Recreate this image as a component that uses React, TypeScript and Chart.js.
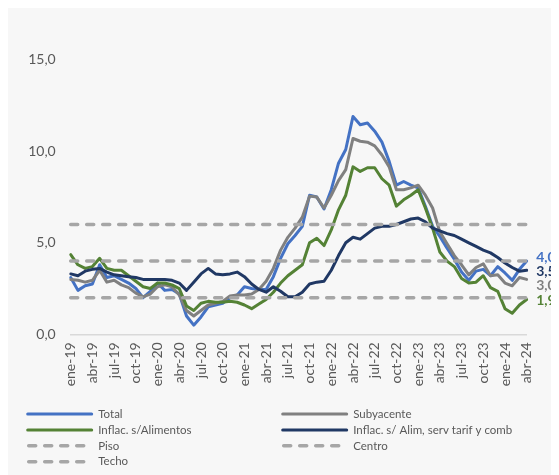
import React, { useEffect, useRef } from "react";
import { Chart, registerables } from "chart.js";

Chart.register(...registerables);

const months = ["ene", "feb", "mar", "abr", "may", "jun", "jul", "ago", "sep", "oct", "nov", "dic"];
const years = ["19", "20", "21", "22", "23", "24"];
const categories = years.flatMap((y) => months.map((m) => `${m}-${y}`)).slice(0, 64);

const total = [
  3.1, 2.4, 2.65, 2.75, 3.8, 3.1, 3.2, 3.0, 2.8, 2.5, 2.0, 2.35,
  2.8, 2.4, 2.45, 2.2, 1.0, 0.5, 0.95, 1.5, 1.6, 1.7, 2.0, 2.15,
  2.6, 2.5, 2.45, 2.45, 3.15, 4.15, 4.95, 5.4, 5.9, 7.6, 7.5, 6.85,
  7.9, 9.35, 10.1, 11.9, 11.45, 11.55, 11.1, 10.5, 9.45, 8.15, 8.35, 8.15,
  8.0, 7.0, 5.9, 5.35, 4.7, 4.1, 3.4, 2.95, 3.45, 3.55, 3.2, 3.7,
  3.35, 2.95, 3.55, 4.0,
];

const subyacente = [
  3.0, 2.95, 2.85, 2.95, 3.5, 2.85, 2.95, 2.7, 2.55, 2.25, 2.05, 2.2,
  2.6, 2.7, 2.6, 2.15, 1.3, 1.0, 1.3, 1.6, 1.7, 1.8, 2.1, 2.15,
  2.15, 2.2, 2.45, 2.9, 3.6, 4.6, 5.3, 5.8, 6.4, 7.55, 7.5, 6.9,
  7.6, 8.4, 9.0, 10.7, 10.55, 10.5, 10.3, 9.8, 9.15, 7.9, 7.9, 8.0,
  8.15, 7.6, 6.9, 5.6, 4.95, 4.3, 3.8, 3.25, 3.65, 3.85, 3.2, 3.25,
  2.8, 2.65, 3.1, 3.0,
];

const sinAlimentos = [
  4.35, 3.8, 3.6, 3.7, 4.15, 3.6, 3.5, 3.5, 3.2, 2.9, 2.6, 2.5,
  2.8, 2.8, 2.7, 2.5, 1.55, 1.3, 1.7, 1.8, 1.75, 1.75, 1.8, 1.75,
  1.6, 1.4, 1.65, 1.9, 2.3, 2.8, 3.2, 3.5, 3.8, 5.0, 5.25, 4.85,
  5.7, 6.8, 7.6, 9.15, 8.9, 9.1, 9.1, 8.5, 8.15, 7.0, 7.35, 7.6,
  7.9, 6.9, 5.8, 4.5, 4.0, 3.7, 3.05, 2.8, 2.85, 3.2, 2.55, 2.35,
  1.4, 1.15, 1.6, 1.9,
];

const sinAlimServ = [
  3.3, 3.2, 3.45, 3.55, 3.6, 3.4, 3.25, 3.2, 3.15, 3.1, 3.0, 3.0,
  3.0, 3.0, 2.95, 2.8, 2.4, 2.85, 3.3, 3.6, 3.3, 3.25, 3.3, 3.4,
  3.15, 2.75, 2.45, 2.3, 2.6, 2.35, 2.05, 2.05, 2.3, 2.75, 2.85, 2.9,
  3.5, 4.3, 5.0, 5.3, 5.2, 5.5, 5.8, 5.9, 5.9, 6.0, 6.15, 6.3,
  6.35, 6.15, 5.8, 5.65, 5.5, 5.4, 5.2, 5.0, 4.8, 4.6, 4.45, 4.2,
  3.9, 3.65, 3.45, 3.5,
];

const piso = 2;
const centro = 4;
const techo = 6;
const yTicks = [0, 5, 10, 15];

const COLORS = {
  total: "#4472C4",
  sub: "#808080",
  ali: "#548235",
  navy: "#203864",
  ref: "#A6A6A6",
  text: "#595959",
  axis: "#D9D9D9",
};

const FONT = "Lato, 'Open Sans', sans-serif";
const DASH = [7, 9];

const fmt = (v: number) => v.toFixed(1).replace(".", ",");

const refLine = (label: string, value: number) => ({
  label,
  data: [
    { x: categories[0], y: value },
    { x: categories[categories.length - 1], y: value },
  ],
  borderColor: COLORS.ref,
  backgroundColor: COLORS.ref,
  borderWidth: 3.5,
  borderDash: DASH,
  borderCapStyle: "round" as const,
  pointRadius: 0,
  order: 0,
  fill: false,
});

const endLabelsPlugin = {
  id: "endLabels",
  afterDatasetsDraw(chart: any) {
    const { ctx, chartArea, scales } = chart;
    const items = [
      { ds: 0, color: COLORS.total, dy: -4 },
      { ds: 3, color: COLORS.navy, dy: 1.5 },
      { ds: 1, color: COLORS.sub, dy: 6.5 },
      { ds: 2, color: COLORS.ali, dy: 0.5 },
    ];
    ctx.save();
    ctx.font = `bold 14px ${FONT}`;
    ctx.textAlign = "left";
    ctx.textBaseline = "middle";
    items.forEach((it) => {
      const data = chart.data.datasets[it.ds].data as number[];
      const v = data[data.length - 1];
      const y = scales.y.getPixelForValue(v) + it.dy;
      ctx.fillStyle = it.color;
      ctx.fillText(fmt(v), chartArea.right + 9.5, y);
    });
    ctx.restore();
  },
};

const legendPlugin = {
  id: "customLegend",
  afterDraw(chart: any) {
    const { ctx } = chart;
    ctx.save();
    chart.data.datasets.forEach((ds: any, i: number) => {
      const col = i % 2;
      const row = Math.floor(i / 2);
      const x0 = col === 0 ? 18.7 : 273.7;
      const y = 406 + row * 15.9;
      ctx.beginPath();
      ctx.strokeStyle = ds.borderColor;
      if (ds.borderDash) {
        ctx.lineWidth = 3.5;
        ctx.setLineDash(DASH);
        ctx.lineCap = "round";
        ctx.moveTo(x0 + 2, y);
        ctx.lineTo(x0 + 64, y);
      } else {
        ctx.lineWidth = 3;
        ctx.setLineDash([]);
        ctx.lineCap = "round";
        ctx.moveTo(x0 + 1, y);
        ctx.lineTo(x0 + 65, y);
      }
      ctx.stroke();
      ctx.setLineDash([]);
      ctx.fillStyle = COLORS.text;
      ctx.font = `11.5px ${FONT}`;
      ctx.textAlign = "left";
      ctx.textBaseline = "middle";
      ctx.fillText(ds.label, x0 + 71.5, y);
    });
    ctx.restore();
  },
};

export default function App() {
  const canvasRef = useRef<HTMLCanvasElement | null>(null);

  useEffect(() => {
    document.documentElement.style.overflow = "hidden";
    document.body.style.overflow = "hidden";
    const canvas = canvasRef.current;
    if (!canvas) return;

    const line = (label: string, data: number[], color: string, order: number) => ({
      label,
      data,
      borderColor: color,
      backgroundColor: color,
      borderWidth: 3,
      pointRadius: 0,
      tension: 0,
      borderJoinStyle: "round" as const,
      borderCapStyle: "round" as const,
      order,
      fill: false,
    });

    const chart = new Chart(canvas, {
      type: "line",
      data: {
        labels: categories,
        datasets: [
          line("Total", total, COLORS.total, 4),
          line("Subyacente", subyacente, COLORS.sub, 3),
          line("Inflac. s/Alimentos", sinAlimentos, COLORS.ali, 2),
          line("Inflac. s/ Alim, serv tarif y comb", sinAlimServ, COLORS.navy, 1),
          refLine("Piso", piso),
          refLine("Centro", centro),
          refLine("Techo", techo),
        ] as any,
      },
      options: {
        responsive: false,
        animation: false,
        layout: { padding: { left: 0, top: 51.8, right: 32.3, bottom: 84.7 } },
        plugins: {
          legend: { display: false },
          tooltip: { enabled: false },
          title: { display: false },
        },
        scales: {
          x: {
            type: "category",
            offset: false,
            grid: { display: false, drawTicks: false },
            border: { display: true, color: COLORS.axis, width: 1.5 },
            afterFit: (scale: any) => {
              scale.height = 56;
            },
            ticks: {
              autoSkip: false,
              maxRotation: 90,
              minRotation: 90,
              padding: 8,
              color: COLORS.text,
              font: { family: FONT, size: 14 },
              callback: (_v: any, i: number) => (i % 3 === 0 ? categories[i] : ""),
            },
          },
          y: {
            min: yTicks[0],
            max: yTicks[yTicks.length - 1],
            grid: { display: false, drawTicks: false },
            border: { display: false },
            afterFit: (scale: any) => {
              scale.width = 62.7;
            },
            afterBuildTicks: (scale: any) => {
              scale.ticks = yTicks.map((v) => ({ value: v }));
            },
            ticks: {
              padding: 15,
              color: COLORS.text,
              font: { family: FONT, size: 14 },
              callback: (v: any) => fmt(Number(v)),
            },
          },
        },
      },
      plugins: [endLabelsPlugin, legendPlugin],
    });

    return () => chart.destroy();
  }, []);

  return (
    <div style={{ width: 551, height: 467, background: "#F7F7F7" }}>
      <canvas ref={canvasRef} width={551} height={467} style={{ display: "block" }} />
    </div>
  );
}
